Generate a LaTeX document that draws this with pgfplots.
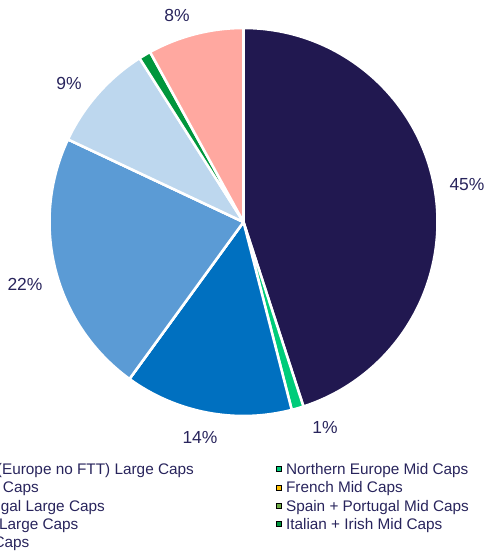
\documentclass[border=0pt]{standalone}
\usepackage{fontspec}
\setmainfont{Liberation Sans}
\usepackage{pgfplots}
\usepackage{pgfplotstable}
\pgfplotsset{compat=1.18}
\definecolor{txt}{RGB}{40,36,92}
\definecolor{c0}{RGB}{33,24,80}
\definecolor{c1}{RGB}{0,204,122}
\definecolor{c2}{RGB}{0,112,192}
\definecolor{c3}{RGB}{255,192,0}
\definecolor{c4}{RGB}{91,155,213}
\definecolor{c5}{RGB}{112,173,71}
\definecolor{c6}{RGB}{189,215,238}
\definecolor{c7}{RGB}{0,150,60}
\definecolor{c8}{RGB}{255,168,160}
\tikzset{lbl/.style={font=\fontsize{13.1pt}{15pt}\selectfont, text=txt, inner sep=0pt}}

% slice share (%), label shown?, label position (px, y up)
\pgfplotstableread{
value show lx ly
45 1 467 366
1  1 325 124
14 1 200 114
0  0 0 0
22 1 25 267
0  0 0 0
9  1 69 468
1  0 0 0
8  1 177 536
}\piedata

\begin{document}
\begin{tikzpicture}
\def\cum{0}
\pgfplotsforeachungrouped \i in {0,...,8}{%
  \pgfplotstablegetelem{\i}{value}\of\piedata \let\v\pgfplotsretval
  \pgfmathsetmacro\sa{90-3.6*\cum}%
  \pgfmathsetmacro\cum{\cum+\v}%
  \pgfmathsetmacro\ea{90-3.6*\cum}%
  \expandafter\xdef\csname sa\i\endcsname{\sa}%
  \expandafter\xdef\csname ea\i\endcsname{\ea}%
  \expandafter\xdef\csname val\i\endcsname{\v}%
  \pgfplotstablegetelem{\i}{show}\of\piedata
  \expandafter\xdef\csname sh\i\endcsname{\pgfplotsretval}%
  \pgfplotstablegetelem{\i}{lx}\of\piedata
  \expandafter\xdef\csname lx\i\endcsname{\pgfplotsretval}%
  \pgfplotstablegetelem{\i}{ly}\of\piedata
  \expandafter\xdef\csname ly\i\endcsname{\pgfplotsretval}%
}
\begin{axis}[x=0.75pt, y=0.75pt, xmin=0, xmax=487, ymin=0, ymax=551,
  hide axis, clip=false,
  legend columns=2, legend cell align=left,
  legend image code/.code={\fill[#1] (0pt,-0.8pt) rectangle (3.75pt,2.95pt);},
  legend style={at={(axis cs:-103,88)}, anchor=north west, draw=none, fill=none,
    inner sep=0pt, outer sep=0pt, column sep=3.75pt, row sep=2.5pt,
    font=\fontsize{11.5pt}{13pt}\selectfont, text=txt,
    nodes={inner sep=0pt, text height=8.6pt, text depth=2.6pt}}]
  \coordinate (bl) at (axis cs:0,0);
  \coordinate (tr) at (axis cs:487,551);
  \pgfplotsinvokeforeach{0,...,8}{%
    \edef\tmp{\noexpand\fill[c#1, draw=white, line width=1.9pt, line join=round]
      (axis cs:243.5,329) -- ++(\csname sa#1\endcsname:145.5pt)
      arc[start angle=\csname sa#1\endcsname, end angle=\csname ea#1\endcsname, radius=145.5pt]
      -- cycle;}\tmp
  }
  \pgfplotsinvokeforeach{0,...,8}{%
    \edef\tmp{\noexpand\node[lbl] at (axis cs:\csname lx#1\endcsname,\csname ly#1\endcsname)
      {\ifnum\csname sh#1\endcsname=1 \csname val#1\endcsname\noexpand\%\fi};}\tmp
  }
  \addlegendimage{fill=c0}\addlegendentry{\makebox[272.25pt][l]{Northern EU (Europe no FTT) Large Caps}}
  \addlegendimage{fill=c1}\addlegendentry{Northern Europe Mid Caps}
  \addlegendimage{fill=c2}\addlegendentry{\makebox[272.25pt][l]{French Large Caps}}
  \addlegendimage{fill=c3}\addlegendentry{French Mid Caps}
  \addlegendimage{fill=c4}\addlegendentry{\makebox[272.25pt][l]{Spain + Portugal Large Caps}}
  \addlegendimage{fill=c5}\addlegendentry{Spain + Portugal Mid Caps}
  \addlegendimage{fill=c6}\addlegendentry{\makebox[272.25pt][l]{Italian + Irish Large Caps}}
  \addlegendimage{fill=c7}\addlegendentry{Italian + Irish Mid Caps}
  \addlegendimage{fill=c8}\addlegendentry{\makebox[272.25pt][l]{Other Large Caps}}
\end{axis}
\pgfresetboundingbox
\useasboundingbox (bl) rectangle (tr);
\end{tikzpicture}
\end{document}
